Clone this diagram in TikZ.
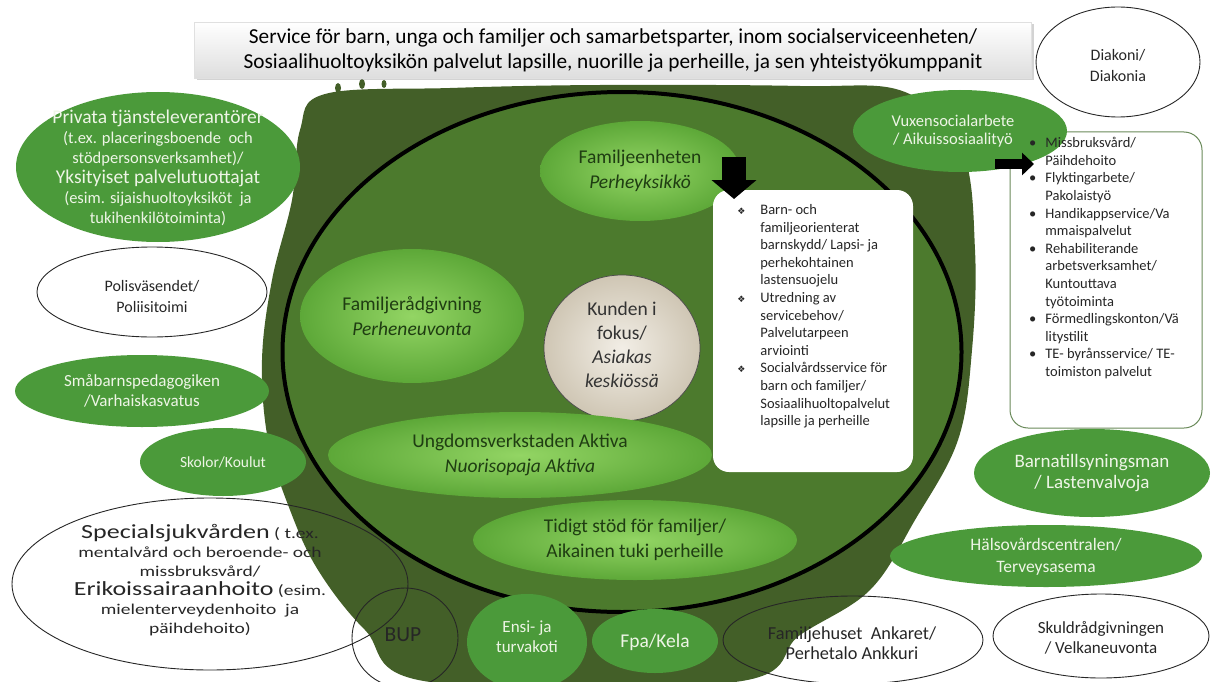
\documentclass[tikz,border=0pt]{standalone}
\usepackage{fontspec}
\setmainfont{Carlito}
\newfontfamily\symfont{DejaVu Sans}
\newfontfamily\widefont{Carlito}[FakeStretch=1.3]
\usetikzlibrary{shapes.geometric,shadows,arrows.meta}

\definecolor{blobgreen}{HTML}{435F28}
\definecolor{ringgreen}{HTML}{4C7A2D}
\definecolor{outgreen}{HTML}{4B9A3A}
\definecolor{lightin}{HTML}{93D564}
\definecolor{lightout}{HTML}{5DA838}
\definecolor{darktext}{HTML}{1F3D12}
\definecolor{paletext}{HTML}{EEF5E6}
\definecolor{beigein}{HTML}{F2EEE6}
\definecolor{beigeout}{HTML}{CFC6B4}
\definecolor{listframe}{HTML}{6A8A5A}

\newcommand{\diamb}{\llap{{\symfont\fontsize{9}{9}\selectfont\char"2756}\hspace{15pt}}}
\newcommand{\dotb}{\llap{\textbullet\hspace{9pt}}}

\tikzset{every picture/.style={line width=0.75pt}}
\tikzset{
  outell/.style={ellipse, fill=outgreen, inner sep=0pt},
  wireell/.style={ellipse, draw=black!85, line width=0.9pt, inner sep=0pt},
  inell/.style={ellipse, inner color=lightin, outer color=lightout, inner sep=0pt},
  paletx/.style={text=paletext, align=center, inner sep=0pt, font=\fontsize{16.5}{20}\selectfont},
  darktx/.style={text=darktext, align=center, inner sep=0pt, font=\fontsize{19.5}{24.5}\selectfont},
  blacktx/.style={text=black!85, align=center, inner sep=0pt, font=\fontsize{16.5}{21}\selectfont},
  listtx/.style={anchor=north west, align=left, inner sep=0pt, text=black!85, font=\fontsize{14.5}{17.6}\selectfont},
  titlebox/.style={rectangle, top color=white, bottom color=black!13, draw=black!12,
    drop shadow={opacity=0.35, shadow xshift=2pt, shadow yshift=-2pt},
    align=center, font=\fontsize{21.3}{25}\selectfont}
}

\begin{document}
\begin{tikzpicture}[x=1pt,y=1pt,yscale=-1,xscale=1]
        \useasboundingbox (0,0) rectangle (1212,682);

        %Shape: Blob
        \fill[blobgreen] plot[smooth cycle, tension=0.6] coordinates {(325,94) (450,88) (600,85) (800,86) (905,92) (962,150) (975,250) (972,350) (958,440) (915,520) (870,590) (800,635) (735,682) (430,682) (365,630) (318,570) (290,510) (268,440) (262,360) (272,280) (292,200) (300,130)};
        \fill[blobgreen] (338,88) ellipse [x radius=3, y radius=5] (362,84) ellipse [x radius=3, y radius=5] (384,84) ellipse [x radius=2.5, y radius=4];

        %Shape: Ring
        \node[ellipse, draw=black, line width=4pt, fill=ringgreen, minimum width=679pt, minimum height=520pt] (ring) at (622,352) {};

        %Shape: Inner ellipses
        \node[inell, minimum width=200pt, minimum height=100pt] (fam) at (640,171) {};
        \node[inell, minimum width=224pt, minimum height=134pt] (radg) at (412,316) {};
        \node[ellipse, inner color=beigein, outer color=beigeout, draw=black!70, minimum width=156pt, minimum height=146pt] (kund) at (622,348) {};
        \node[inell, minimum width=384pt, minimum height=86pt] (ungd) at (520,455) {};
        \node[inell, minimum width=324pt, minimum height=80pt] (tidigt) at (635,540) {};

        %Shape: Family list box
        \node[rectangle, rounded corners=16pt, fill=white, minimum width=200pt, minimum height=282pt] (famlist) at (813,331) {};
        \coordinate (famarrow-s) at (734,157);
        \coordinate (famarrow-e) at (734,199);
        \draw[line width=24pt, -{Triangle[width=44pt,length=19pt]}] (famarrow-s) -- (famarrow-e);

        %Shape: Adult list box
        \node[rectangle, rounded corners=18pt, fill=white, draw=listframe, line width=1pt, minimum width=192pt, minimum height=296pt] (adultlist) at (1106,280) {};

        %Shape: Green ellipses outside
        \node[outell, minimum width=284pt, minimum height=150pt] (privata) at (158,167) {};
        \node[outell, minimum width=254pt, minimum height=72pt] (smab) at (142,391) {};
        \node[outell, minimum width=166pt, minimum height=68pt] (skolor) at (223,462) {};
        \node[outell, minimum width=120pt, minimum height=96pt] (ensi) at (527,642) {};
        \node[outell, minimum width=126pt, minimum height=64pt] (fpa) at (655,641) {};
        \node[outell, minimum width=312pt, minimum height=62pt] (halso) at (1046,556) {};
        \node[outell, minimum width=236pt, minimum height=88pt] (barna) at (1092,473) {};
        \node[outell, minimum width=214pt, minimum height=82pt] (vuxen) at (960,131) {};
        \coordinate (adultarrow-s) at (995,164);
        \coordinate (adultarrow-e) at (1034,164);
        \draw[line width=10pt, -{Triangle[width=22pt,length=12pt]}] (adultarrow-s) -- (adultarrow-e);

        %Shape: Outlined ellipses
        \node[wireell, minimum width=230pt, minimum height=90pt] (polis) at (152,292) {};
        \node[wireell, minimum width=396pt, minimum height=172pt] (special) at (210,584) {};
        \node[wireell, minimum width=106pt, minimum height=100pt] (bup) at (405,638) {};
        \node[wireell, minimum width=260pt, minimum height=88pt] (famhus) at (853,640) {};
        \node[wireell, minimum width=216pt, minimum height=84pt] (skuld) at (1101,636) {};
        \node[wireell, minimum width=164pt, minimum height=110pt] (diakoni) at (1118,62) {};

        %Shape: Title
        \node[titlebox, minimum width=837pt, minimum height=56pt] (title) at (613,50) {Service för barn, unga och familjer och samarbetsparter, inom socialserviceenheten/\\Sosiaalihuoltoyksikön palvelut lapsille, nuorille ja perheille, ja sen yhteistyökumppanit};

        % Text Node
        \node[darktx] (fam-t) at (640,171) {Familjeenheten\\\textit{Perheyksikkö}};
        % Text Node
        \node[darktx] (radg-t) at (412,316) {Familjerådgivning\\\textit{Perheneuvonta}};
        % Text Node
        \node[darktx, text=black!80, font=\fontsize{19.5}{24}\selectfont] (kund-t) at (622,345) {Kunden i\\fokus/\\\textit{Asiakas}\\\textit{keskiössä}};
        % Text Node
        \node[darktx] (ungd-t) at (520,455) {Ungdomsverkstaden Aktiva\\\textit{Nuorisopaja Aktiva}};
        % Text Node
        \node[darktx] (tidigt-t) at (635,540) {Tidigt stöd för familjer/\\Aikainen tuki perheille};
        % Text Node
        \node[listtx] (famlist-t) at (760,204) {\diamb Barn- och\\familjeorienterat\\barnskydd/ Lapsi- ja\\perhekohtainen\\lastensuojelu\\\diamb Utredning av\\servicebehov/\\Palvelutarpeen\\arviointi\\\diamb Socialvårdsservice för\\barn och familjer/\\Sosiaalihuoltopalvelut\\lapsille ja perheille};
        % Text Node
        \node[listtx] (adultlist-t) at (1045,137) {\dotb Missbruksvård/\\Päihdehoito\\\dotb Flyktingarbete/\\Pakolaistyö\\\dotb Handikappservice/Va\\mmaispalvelut\\\dotb Rehabiliterande\\arbetsverksamhet/\\Kuntouttava\\työtoiminta\\\dotb Förmedlingskonton/Vä\\litystilit\\\dotb TE- byrånsservice/ TE-\\toimiston palvelut};
        % Text Node
        \node[paletx] (privata-t) at (158,168) {{\fontsize{19.5}{20}\selectfont Privata tjänsteleverantörer}\\(t.ex. placeringsboende\ \ och\\stödpersonsverksamhet)/\\{\fontsize{19.5}{20}\selectfont Yksityiset palvelutuottajat}\\(esim. sijaishuoltoyksiköt\ \ ja\\tukihenkilötoiminta)};
        % Text Node
        \node[paletx, font=\fontsize{17}{20}\selectfont] (smab-t) at (142,391) {Småbarnspedagogiken\\/Varhaiskasvatus};
        % Text Node
        \node[paletx, font=\fontsize{15.5}{20}\selectfont] (skolor-t) at (223,462) {Skolor/Koulut};
        % Text Node
        \node[paletx, font=\fontsize{17}{20}\selectfont] (ensi-t) at (527,637) {Ensi- ja\\turvakoti};
        % Text Node
        \node[paletx, font=\fontsize{19.5}{20}\selectfont] (fpa-t) at (655,642) {Fpa/Kela};
        % Text Node
        \node[paletx, font=\fontsize{17.5}{22}\selectfont] (halso-t) at (1046,557) {Hälsovårdscentralen/\\Terveysasema};
        % Text Node
        \node[paletx, font=\fontsize{19}{21}\selectfont] (barna-t) at (1092,473) {Barnatillsyningsman\\/ Lastenvalvoja};
        % Text Node
        \node[paletx, font=\fontsize{16.5}{18}\selectfont] (vuxen-t) at (953,131) {Vuxensocialarbete\\/ Aikuissosiaalityö};
        % Text Node
        \node[blacktx, font=\fontsize{16}{21}\selectfont] (polis-t) at (152,297) {Polisväsendet/\\Poliisitoimi};
        % Text Node
        \node[blacktx, font=\widefont\fontsize{15}{19}\selectfont] (special-t) at (200,580) {{\fontsize{20}{19}\selectfont Specialsjukvården} ( t.ex.\\mentalvård och beroende- och\\missbruksvård/\\{\fontsize{20}{19}\selectfont Erikoissairaanhoito} (esim.\\mielenterveydenhoito\ \ ja\\päihdehoito)};
        % Text Node
        \node[blacktx, font=\fontsize{21.5}{21}\selectfont] (bup-t) at (403,635) {BUP};
        % Text Node
        \node[blacktx, font=\fontsize{18.3}{20}\selectfont] (famhus-t) at (852,643) {Familjehuset\ \ Ankaret/\\Perhetalo Ankkuri};
        % Text Node
        \node[blacktx, font=\fontsize{17}{20}\selectfont] (skuld-t) at (1101,638) {Skuldrådgivningen\\/ Velkaneuvonta};
        % Text Node
        \node[blacktx, font=\fontsize{16}{21}\selectfont] (diakoni-t) at (1118,66) {Diakoni/\\Diakonia};
\end{tikzpicture}
\end{document}
